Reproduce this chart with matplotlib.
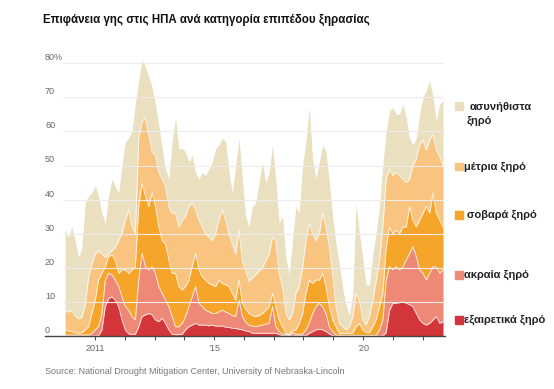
import numpy as np
import pandas as pd
import matplotlib
matplotlib.use("Agg")
import matplotlib.pyplot as plt
from matplotlib.patches import Rectangle
from matplotlib.lines import Line2D
from matplotlib.transforms import blended_transform_factory

plt.rcParams['font.family'] = ['Liberation Sans', 'DejaVu Sans']

# samples, share of US land area (%), cumulative levels
dates = pd.date_range('2010-01-01', periods=114, freq='41D')

# D0-D4 (any dryness)
d0 = [31, 29, 32, 28, 23, 26, 39, 41, 42, 44, 41, 36, 33, 41, 46, 44, 42, 50, 57, 58,
      60, 68, 75, 81, 79, 76, 73, 68, 62, 55, 49, 46, 57, 64, 55, 55, 54, 51, 53, 48,
      46, 48, 47, 49, 51, 55, 56,
      58, 57, 48, 42, 50, 58, 46, 35, 32, 38, 39, 45, 51, 45, 48, 56, 46, 33, 35, 23,
      18, 28, 38, 36, 50, 57, 67, 52, 46, 51, 56, 54, 45, 35, 27, 21, 14, 9, 6, 12,
      39, 30, 23, 15, 15, 24, 30, 38, 50, 60, 66, 67, 65, 65, 68, 64, 58, 56, 58, 65,
      70, 72, 75, 70, 63, 68, 69]
# D1-D4
d1 = [7.5, 7, 7.5, 6, 5, 5.5, 9, 17, 21, 24, 25, 24, 23, 24, 25, 26, 28, 30, 34, 37,
      32, 30, 58, 63, 64, 59, 54, 53, 48, 46, 44, 38, 36, 36, 32, 34, 35, 38, 39, 37,
      34, 32, 30, 29, 28, 30, 34,
      37, 34, 30, 27, 24, 31, 22, 19, 16, 17, 18, 19, 20, 22, 24, 29, 28, 18, 14.5, 6.6,
      4.7, 6.6, 12.5, 14.5, 20, 28, 33, 30, 28, 30, 36, 32, 26, 18, 8.6, 3.7, 2.7, 1.8, 2.7, 5.7,
      12.5, 10.5, 4.7, 3.2, 5.7, 10.5, 16, 22, 32, 46, 49, 47, 48, 47, 46, 45, 46, 50, 52, 56,
      57.5, 54.5, 57.5, 59, 54.5, 52.6, 50]
# D2-D4
d2 = [1.8, 1.5, 1.3, 1, 0.8, 1, 1.8, 2.7, 6.6, 10.5, 16.4, 18.4, 20.3, 23.3, 23.8, 22.3, 18.4, 19.4, 19.4, 18.4,
      19.4, 20.3, 38, 44.8, 41, 38, 42, 38, 32, 28, 27, 22.3, 18.4, 18.4, 14.5, 13.5, 14.5, 16.4, 20.3, 24.2,
      19.4, 17.4, 16.4, 15.4, 15, 14.5, 16.4,
      15.4, 15, 14.5, 12.5, 10.5, 16.4, 9.6, 8, 6.6, 6, 5.7, 6, 6.6, 7.5, 8.6, 12.5, 8.6, 4.7, 2.7, 0.8,
      0.4, 1.5, 1.8, 3.7, 6.6, 12.5, 16.4, 15.4, 16.4, 16.4, 18.4, 14.5, 8.6, 4.7, 2.7, 0.8, 0.8, 0.8, 0.8, 0.8,
      2.7, 3.7, 1.8, 1, 1, 2.7, 4.7, 8.6, 12.5, 26, 32, 30, 31, 30, 32, 32, 38, 34, 32, 34,
      36, 38, 36, 42, 36, 34, 32]
# D3-D4
d3 = [0.3, 0.3, 0.3, 0.3, 0.3, 0.3, 0.3, 0.3, 0.8, 1.8, 2.7, 6.6, 16.4, 18.4, 17.9, 16.4, 14.5, 11.5, 8.6, 7.6,
      5.7, 4.7, 16.4, 24.2, 20.3, 19.4, 20.3, 18.4, 14.5, 12.5, 10.5, 8.6, 5.7, 2.7, 2.7, 3.7, 5.7, 8.6, 11.5, 14.5,
      9.6, 8.6, 7.6, 7.1, 6.6, 6.6, 7.1,
      7.6, 7, 6.6, 6, 5.7, 10.5, 5.7, 4, 3.2, 2.9, 2.7, 3, 3.2, 3.5, 3.7, 8.6, 2.7, 1.3, 0.6, 0.5,
      0.3, 1.0, 0.5, 0.5, 0.6, 1.8, 3.7, 6.6, 8.6, 9.6, 8.6, 6.6, 2.7, 1.3, 0.3, 0.2, 0.2, 0.2, 0.2, 0.2,
      0.2, 0.2, 0.2, 0.2, 0.2, 0.2, 0.2, 1.8, 4.7, 16.4, 20.3, 19.4, 20.3, 19.4, 20.3, 22.3, 24.2, 26.2, 23.3, 19.4,
      18.4, 16.4, 18.4, 20.3, 20.3, 18.4, 19.4]
# D4
d4 = [0, 0, 0, 0, 0, 0, 0, 0, 0, 0, 0.1, 1.8, 8.6, 11, 11.5, 10.5, 8.6, 4.7, 1.8, 0.6,
      0.5, 0.5, 2.7, 5.7, 6.2, 6.6, 6.2, 4.7, 4.2, 5.2, 3.7, 1.8, 0.5, 0.4, 0.4, 0.5, 1.8, 2.7, 3.2, 3.7,
      3.2, 3.2, 3.2, 3, 3.2, 2.9, 2.9,
      2.9, 2.6, 2.5, 2.3, 2.2, 2, 1.8, 1.5, 1.3, 0.8, 0.8, 0.8, 0.8, 0.8, 0.8, 0.8, 0.8, 0.4, 0.1, 0.1,
      0.1, 0.3, 0.1, 0.1, 0.1, 0.1, 0.8, 1.3, 1.8, 2, 1.8, 1.3, 0.6, 0.1, 0, 0, 0, 0, 0, 0,
      0, 0, 0, 0, 0, 0, 0, 0, 0, 1, 7.5, 9.6, 9.6, 9.8, 10, 9.6, 9.2, 8.6, 6.6, 4.7,
      3.7, 3.2, 3.7, 4.7, 5.7, 3.7, 4.2]

labels = ['ασυνήθιστα\nξηρό', 'μέτρια ξηρό', 'σοβαρά ξηρό', 'ακραία ξηρό', 'εξαιρετικά ξηρό']
colors = ['#eadfbe', '#f9c47f', '#f6a52b', '#ef8977', '#d2363b']
title = 'Επιφάνεια γης στις ΗΠΑ ανά κατηγορία επιπέδου ξηρασίας'
source = 'Source: National Drought Mitigation Center, University of Nebraska-Lincoln'

W, H = 554, 389
fig = plt.figure(figsize=(W / 100, H / 100), dpi=100)

def fx(px):
    return px / W

def fy(py):
    return 1 - py / H

ax = fig.add_axes([fx(63), fy(336), 381 / W, 279.6 / H])

levels = [d0, d1, d2, d3, d4, [0] * len(d4)]
for i in range(5):
    ax.fill_between(dates, levels[i + 1], levels[i], color=colors[i], lw=0, zorder=1)
for lev in levels[1:5]:
    ax.plot(dates, lev, color='white', lw=0.6, alpha=0.85, zorder=2)

for v in range(10, 90, 10):
    ax.axhline(v, color='#ececec', lw=0.8, zorder=3)

ax.set_ylim(0, 82)
ax.set_xlim(pd.Timestamp('2009-12-06'), pd.Timestamp('2022-09-20'))
for s in ax.spines.values():
    s.set_visible(False)
ax.set_yticks([])

# y labels sit just above the grid lines, left of the plot
ylab_tr = blended_transform_factory(fig.transFigure, ax.transData)
for v in range(0, 90, 10):
    lab = '80%' if v == 80 else str(v)
    ax.text(fx(45), v + 0.3, lab, transform=ylab_tr, fontsize=6.5,
            color='#666666', ha='left', va='bottom')

years = pd.to_datetime([f'{y}-01-01' for y in range(2011, 2023)])
xlabs = {2011: '2011', 2015: '\u201915', 2020: '\u201920'}
ax.set_xticks(years)
ax.set_xticklabels([xlabs.get(y.year, '') for y in years])
ax.tick_params(axis='x', length=3, width=0.8, color='#555555', labelsize=6.5,
               labelcolor='#666666', pad=3)

fig.add_artist(Line2D([fx(45), fx(445)], [fy(336), fy(336)], color='#444444', lw=1))

fig.text(fx(43), fy(20), title, fontsize=8.3, fontweight='bold', color='#111111',
         ha='left', va='center')
fig.text(fx(45), fy(372), source, fontsize=6.5, color='#777777', ha='left', va='center')

# legend
sq_y = [106.5, 166.5, 215, 275, 320]
txt_x = [470, 464, 467, 464, 464]
for lab, c, yy, tx in zip(labels, colors, sq_y, txt_x):
    fig.add_artist(Rectangle((fx(455), fy(yy + 3.5)), 7.5 / W, 7.5 / H, color=c,
                             transform=fig.transFigure))
    if '\n' in lab:
        l1, l2 = lab.split('\n')
        fig.text(fx(tx), fy(yy), l1, fontsize=8, fontweight='bold', color='#222222',
                 ha='left', va='center')
        fig.text(fx(467), fy(yy + 14), l2, fontsize=8, fontweight='bold', color='#222222',
                 ha='left', va='center')
    else:
        fig.text(fx(tx), fy(yy), lab, fontsize=8, fontweight='bold', color='#222222',
                 ha='left', va='center')

fig.savefig('out.png', dpi=100, facecolor='white')
